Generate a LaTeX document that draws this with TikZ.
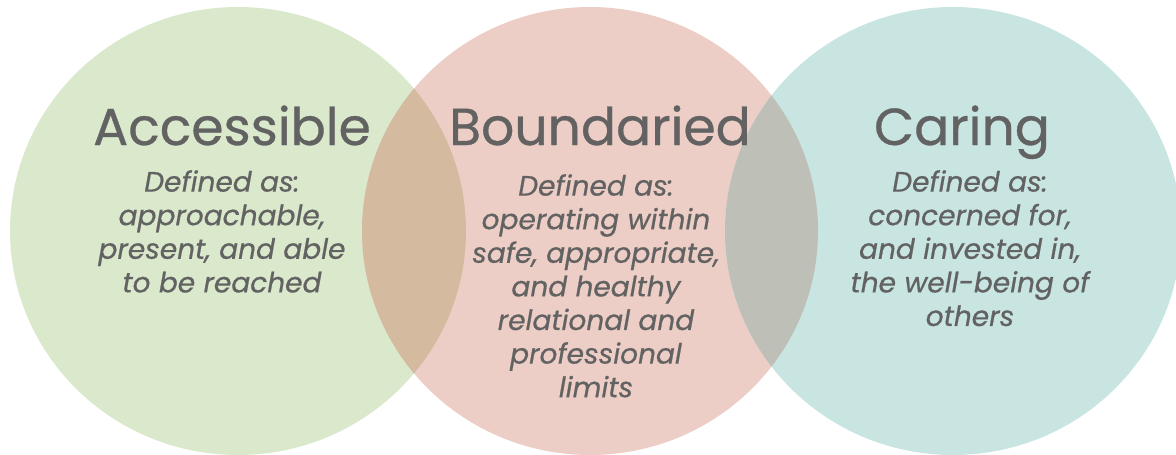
\documentclass[tikz,border=0pt]{standalone}
\usepackage{fontspec}
\setmainfont{Poppins}
\newfontfamily\heavyfont{Poppins}[FakeBold=0.6]
\usepackage{xcolor}
\definecolor{accgreen}{RGB}{218,233,204}
\definecolor{bndpink}{RGB}{237,206,198}
\definecolor{carteal}{RGB}{201,229,226}
\definecolor{lenstan}{RGB}{212,187,159}
\definecolor{lensgrey}{RGB}{190,192,184}
\definecolor{textgrey}{RGB}{98,98,98}

\begin{document}
\begin{tikzpicture}[x=1pt, y=-1pt,
    title/.style={font=\heavyfont\fontsize{52}{60}\selectfont, text=textgrey, inner sep=0pt, anchor=base},
    defn/.style={font=\heavyfont\fontsize{28}{33.6}\selectfont\itshape, text=textgrey, align=center, inner sep=0pt, anchor=north},
    blob/.style={x radius=228, y radius=224}]
    \useasboundingbox (0,0) rectangle (1176,455);

    % Circle centres
    \coordinate (acc) at (238,231);
    \coordinate (bnd) at (590,231);
    \coordinate (car) at (953,231);

    % Circles
    \fill[accgreen] (acc) ellipse [blob];
    \fill[bndpink] (bnd) ellipse [blob];
    \fill[carteal] (car) ellipse [blob];

    % Overlaps
    \begin{scope}
        \clip (acc) ellipse [blob];
        \fill[lenstan] (bnd) ellipse [blob];
    \end{scope}
    \begin{scope}
        \clip (car) ellipse [blob];
        \fill[lensgrey] (bnd) ellipse [blob];
    \end{scope}

    % Titles
    \node[title] (acctitle) at (232,145) {Accessible};
    \node[title] (bndtitle) at (600,145) {Boundaried};
    \node[title] (cartitle) at (962,145) {Caring};

    % Definitions
    \node[defn] (accdef) at (222,170) {Defined as:\\approachable,\\present, and able\\to be reached};
    \node[defn] (bnddef) at (596,174) {Defined as:\\operating within\\safe, appropriate,\\and healthy\\relational and\\professional\\limits};
    \node[defn] (cardef) at (970,170) {Defined as:\\concerned for,\\and invested in,\\the well-being of\\others};
\end{tikzpicture}
\end{document}
